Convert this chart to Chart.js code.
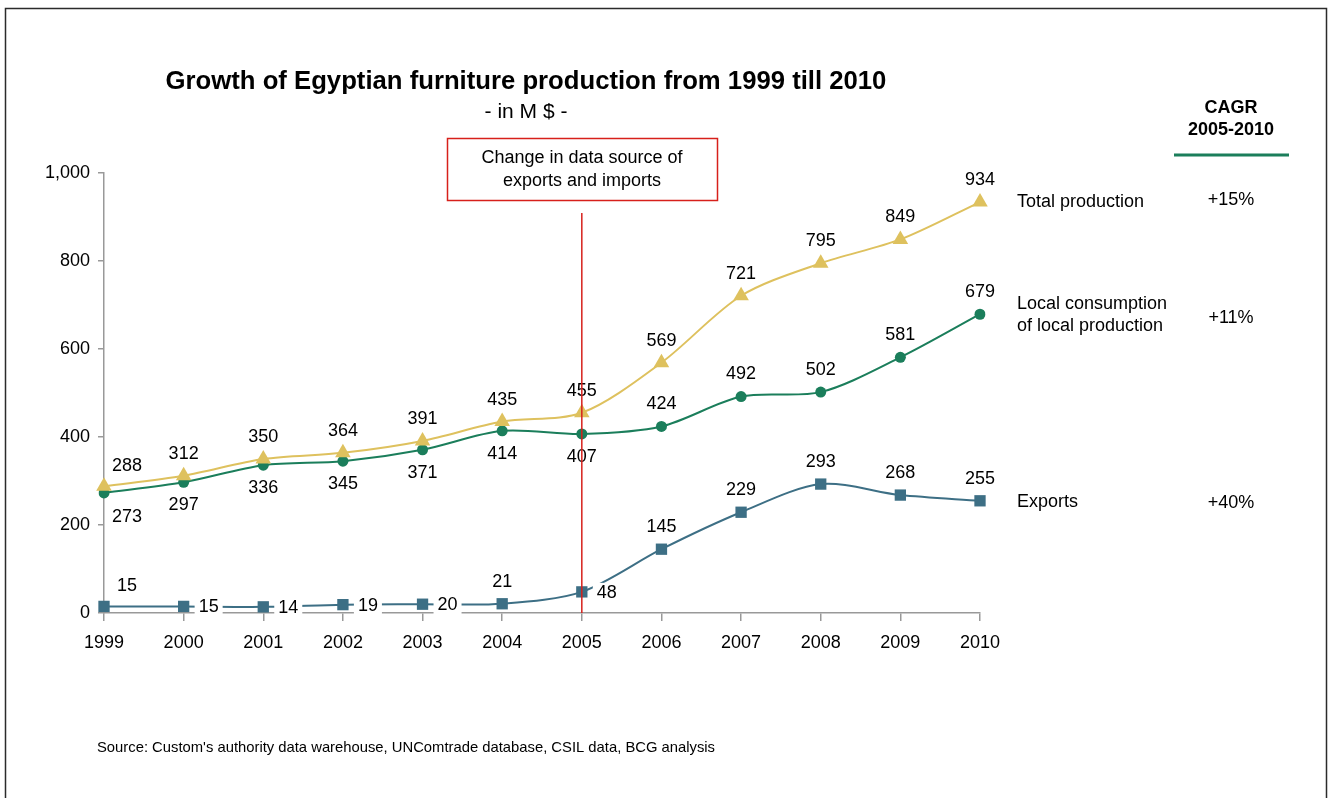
<!DOCTYPE html>
<html>
<head>
<meta charset="utf-8">
<script src="https://cdn.jsdelivr.net/npm/chart.js@4.4.1/dist/chart.umd.min.js"></script>
<style>
  html, body { margin: 0; padding: 0; background: #fff; }
  #wrap { position: relative; width: 1331px; height: 798px; }
</style>
</head>
<body>
<div id="wrap"><canvas id="c" width="1331" height="798"></canvas></div>
<script>
// Egyptian furniture sector, M $
const years = ['1999','2000','2001','2002','2003','2004','2005','2006','2007','2008','2009','2010'];
const totalProduction = [288, 312, 350, 364, 391, 435, 455, 569, 721, 795, 849, 934];
const localConsumption = [273, 297, 336, 345, 371, 414, 407, 424, 492, 502, 581, 679];
const exportsValues = [15, 15, 14, 19, 20, 21, 48, 145, 229, 293, 268, 255];
const yTicks = [0, 200, 400, 600, 800, 1000];

const seriesNames = ['Total production', ['Local consumption', 'of local production'], 'Exports'];
const cagr = ['+15%', '+11%', '+40%'];

// label placement per point: 'a' above, 'b' below, 'r' right (boxed), 'ar' above-right, 'br' below-right
const totalPos = ['ar','a','a','a','a','a','a','a','a','a','a','a'];
const localPos = ['br','b','b','b','b','b','b','a','a','a','a','a'];
const exportPos = ['ar','r','r','r','r','a','r','a','a','a','a','a'];

const GOLD = '#DEC15E';
const GREEN = '#1B7E5B';
const TEAL = '#3D6F85';
const FONT = '"Liberation Sans", Arial, sans-serif';

const fmt = v => v.toLocaleString('en-US');

const overlay = {
  id: 'overlay',
  afterDatasetsDraw(chart) {
    const ctx = chart.ctx;
    const xs = chart.scales.x, ys = chart.scales.y;
    const positions = [totalPos, localPos, exportPos];
    ctx.save();
    ctx.font = '18px ' + FONT;
    ctx.fillStyle = '#000';
    ctx.textAlign = 'center';
    ctx.textBaseline = 'middle';
    chart.data.datasets.forEach((ds, di) => {
      const meta = chart.getDatasetMeta(di);
      meta.data.forEach((pt, i) => {
        const txt = fmt(ds.data[i]);
        const p = positions[di][i];
        let x = pt.x, y = pt.y;
        if (p === 'a') { y -= 22; }
        else if (p === 'b') { y += 23; }
        else if (p === 'ar') { x += 23; y -= 20; }
        else if (p === 'br') { x += 23; y += 24; }
        else if (p === 'r') {
          x += 25; y += 1;
          const w = ctx.measureText(txt).width + 8;
          ctx.fillStyle = '#fff';
          ctx.fillRect(x - w / 2, y - 10, w, 20);
          ctx.fillStyle = '#000';
        }
        ctx.fillText(txt, x, y);
      });
    });

    // vertical marker at 2005
    const x05 = xs.getPixelForValue(6);
    ctx.strokeStyle = '#D7201B';
    ctx.lineWidth = 1.5;
    ctx.beginPath();
    ctx.moveTo(x05, 213);
    ctx.lineTo(x05, ys.getPixelForValue(0));
    ctx.stroke();
    ctx.restore();
  },
  afterDraw(chart) {
    const ctx = chart.ctx;
    ctx.save();
    // outer frame
    ctx.strokeStyle = '#2b2b2b';
    ctx.lineWidth = 1.5;
    ctx.beginPath();
    ctx.moveTo(5.5, 800);
    ctx.lineTo(5.5, 8.5);
    ctx.lineTo(1326.5, 8.5);
    ctx.lineTo(1326.5, 800);
    ctx.stroke();

    ctx.fillStyle = '#000';
    ctx.textAlign = 'center';
    ctx.textBaseline = 'middle';
    ctx.font = 'bold 25.7px ' + FONT;
    ctx.fillText('Growth of Egyptian furniture production from 1999 till 2010', 526, 82);
    ctx.font = '21px ' + FONT;
    ctx.fillText('- in M $ -', 526, 112);

    // annotation box
    ctx.strokeStyle = '#D7201B';
    ctx.lineWidth = 1.5;
    ctx.strokeRect(447.5, 138.5, 270, 62);
    ctx.font = '18px ' + FONT;
    ctx.fillText('Change in data source of', 582, 158);
    ctx.fillText('exports and imports', 582, 181);

    // CAGR header
    ctx.font = 'bold 18px ' + FONT;
    ctx.fillText('CAGR', 1231, 108);
    ctx.fillText('2005-2010', 1231, 130);
    ctx.strokeStyle = GREEN;
    ctx.lineWidth = 3;
    ctx.beginPath();
    ctx.moveTo(1174, 155);
    ctx.lineTo(1289, 155);
    ctx.stroke();

    // series names and growth rates
    ctx.font = '18px ' + FONT;
    ctx.textAlign = 'left';
    ctx.fillText(seriesNames[0], 1017, 202);
    ctx.fillText(seriesNames[1][0], 1017, 304);
    ctx.fillText(seriesNames[1][1], 1017, 326);
    ctx.fillText(seriesNames[2], 1017, 502);
    ctx.textAlign = 'center';
    ctx.fillText(cagr[0], 1231, 200);
    ctx.fillText(cagr[1], 1231, 318);
    ctx.fillText(cagr[2], 1231, 503);

    ctx.textAlign = 'left';
    ctx.font = '14.8px ' + FONT;
    ctx.fillText("Source: Custom's authority data warehouse, UNComtrade database, CSIL data, BCG analysis", 97, 748);
    ctx.restore();
  }
};

new Chart(document.getElementById('c'), {
  type: 'line',
  data: {
    labels: years,
    datasets: [
      { label: 'Total production', data: totalProduction, borderColor: GOLD, backgroundColor: GOLD,
        pointStyle: 'triangle', pointRadius: 9, pointBorderWidth: 0, borderWidth: 2, tension: 0.3 },
      { label: 'Local consumption of local production', data: localConsumption, borderColor: GREEN, backgroundColor: GREEN,
        pointStyle: 'circle', pointRadius: 5.5, pointBorderWidth: 0, borderWidth: 2, tension: 0.3 },
      { label: 'Exports', data: exportsValues, borderColor: TEAL, backgroundColor: TEAL,
        pointStyle: 'rect', pointRadius: 8, pointBorderWidth: 0, borderWidth: 2, tension: 0.3 }
    ]
  },
  options: {
    responsive: false,
    animation: false,
    events: [],
    layout: { padding: { left: 0, right: 351, top: 173, bottom: 0 } },
    plugins: { legend: { display: false }, tooltip: { enabled: false }, title: { display: false } },
    scales: {
      x: {
        offset: false,
        grid: { display: true, drawOnChartArea: false, drawTicks: true, tickLength: 8, color: '#999', lineWidth: 1.5 },
        border: { display: true, color: '#999', width: 1.5 },
        ticks: { color: '#000', font: { family: FONT, size: 18 }, padding: 11, maxRotation: 0, autoSkip: false },
        afterFit(s) { s.height = 185; }
      },
      y: {
        min: 0, max: 1000,
        afterBuildTicks(s) { s.ticks = yTicks.map(v => ({ value: v })); },
        grid: { display: true, drawOnChartArea: false, drawTicks: true, tickLength: 6, color: '#999', lineWidth: 1.5 },
        border: { display: true, color: '#999', width: 1.5 },
        ticks: { color: '#000', font: { family: FONT, size: 18 }, padding: 8, callback: v => fmt(v) },
        afterFit(s) { s.width = 104; }
      }
    }
  },
  plugins: [overlay]
});
</script>
</body>
</html>
